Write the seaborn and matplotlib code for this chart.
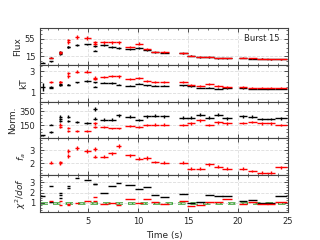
import numpy as np
import matplotlib
matplotlib.use("Agg")
import matplotlib.pyplot as plt
import seaborn as sns
from matplotlib.ticker import AutoMinorLocator

# ---- data ----
t_black = [0.45, 1.3, 1.3, 2.2, 2.2, 2.2, 3.0, 3.0, 3.9, 4.9, 5.65, 5.65, 6.6, 7.4, 8.05,
           9.2, 10.1, 10.9, 11.7, 12.6, 14.5, 15.3, 16.2, 17.1, 18.0, 18.9, 20.5, 21.4,
           22.4, 23.3, 24.3]
dt_black = [0.25, 0.2, 0.2, 0.15, 0.15, 0.15, 0.15, 0.15, 0.2, 0.35, 0.2, 0.2, 0.4, 0.4, 0.25,
            0.5, 0.4, 0.4, 0.4, 0.45, 0.45, 0.4, 0.45, 0.45, 0.45, 0.5, 0.4, 0.45,
            0.55, 0.4, 0.6]
flux_black = [1.0, 4.0, 12.5, 20, 23, 26, 36, 36, 41, 42, 38, 28, 40, 36, 34,
              31, 34, 29, 24, 23, 22, 17, 13.5, 13.5, 11, 11, 11.5, 10,
              9.5, 9, 8.5]
kt_black = [1.55, 1.55, 1.45, 1.7, 1.75, 1.8, 1.75, 1.75, 1.95, 2.08, 1.95, 1.55, 1.92, 1.9, 1.75,
            1.65, 1.85, 1.7, 1.65, 1.65, 1.67, 1.6, 1.43, 1.45, 1.35, 1.42, 1.4, 1.38,
            1.38, 1.38, 1.38]
norm_black = [3, 160, 55, 270, 240, 210, 270, 210, 198, 185, 385, 245, 230, 230, 293,
              270, 222, 279, 285, 280, 256, 256, 303, 256, 303, 250, 279, 270,
              240, 240, 250]
chi_black = [1.65, 2.65, 1.1, 1.95, 1.75, 1.45, 2.65, 2.4, 3.4, 3.2, 2.8, 2.8, 1.95, 2.6, 2.95,
             2.7, 2.3, 2.5, 1.8, 1.6, 1.85, 0.95, 1.05, 1.8, 1.65, 1.7, 1.15, 1.3,
             0.95, 0.95, 1.65]

t_red = [1.3, 2.2, 2.2, 3.0, 3.0, 3.9, 4.9, 5.65, 5.65, 6.6, 7.4, 8.05, 9.2, 10.1, 10.9,
         11.7, 12.6, 14.5, 15.3, 16.2, 17.1, 18.0, 18.9, 20.5, 21.4, 22.4, 23.3, 24.3]
dt_red = [0.2, 0.15, 0.15, 0.15, 0.15, 0.2, 0.35, 0.2, 0.2, 0.4, 0.4, 0.25, 0.5, 0.4, 0.4,
          0.4, 0.45, 0.45, 0.4, 0.45, 0.45, 0.45, 0.5, 0.4, 0.45, 0.55, 0.4, 0.6]
flux_red = [12.5, 22, 25, 47, 51, 59, 57, 47, 44, 47, 47, 47, 36, 44, 32,
            26, 25, 23, 17, 14, 14, 11.5, 11.5, 12, 10.5, 9.5, 9, 8.5]
kt_red = [2.0, 1.95, 2.0, 2.5, 2.8, 2.95, 2.95, 2.4, 2.25, 2.45, 2.55, 2.5, 2.25, 2.35, 2.08,
          1.95, 1.95, 1.95, 1.75, 1.6, 1.8, 1.6, 1.55, 1.5, 1.47, 1.47, 1.47, 1.47]
norm_red = [np.nan, 160, 120, 113, 65, 65, 65, 175, 127, 127, 103, 103, 136, 127, 150,
            160, 160, 150, 175, 222, 150, 193, 175, 180, 194, 175, 175, 150]
fa_red = [2.05, 2.0, 2.08, 2.92, 2.55, 3.18, 2.92, 3.05, 2.5, 2.5, 2.75, 3.3, 2.6, 2.35, 2.4,
          2.1, 2.05, 2.05, 1.6, 1.6, 1.92, 1.75, 1.6, 1.6, 1.42, 1.3, 1.3, 1.68]
chi_red = [1.2, 1.15, 0.75, 0.85, 0.8, 1.0, 1.2, 1.6, 1.2, 0.85, 1.0, 0.75, 1.35, 0.95, 1.4,
           1.05, 0.9, 1.2, 0.65, 0.75, 1.05, 1.1, 1.35, 0.85, 1.1, 0.9, 0.85, 1.05]

ylabels = ["Flux", "kT", "Norm.", "$f_a$", "$\\chi^2/dof$"]
yticks = [[15, 55], [1, 3], [150, 350], [2, 3], [1, 2, 3]]
ylims = [(-4, 79), (0.17, 3.58), (-40, 490), (1.1, 3.88), (0.1, 3.7)]
xticks = [5, 10, 15, 20, 25]

# ---- style ----
sns.set_style("ticks")
plt.rcParams["font.family"] = ["DejaVu Sans"]
plt.rcParams["font.size"] = 6

fig, axes = plt.subplots(5, 1, figsize=(3.2, 2.4), dpi=100, sharex=True)
fig.subplots_adjust(left=0.125, right=0.9, top=0.883, bottom=0.117, hspace=0)

ekw = dict(fmt="none", elinewidth=1.0, capsize=0)

def yerr_of(vals, frac, minimum):
    v = np.asarray(vals, dtype=float)
    return np.maximum(np.abs(v) * frac, minimum)

# Flux
ax = axes[0]
ax.errorbar(t_black, flux_black, xerr=dt_black, yerr=yerr_of(flux_black, 0.05, 1.0), ecolor="black", **ekw)
ax.errorbar(t_red, flux_red, xerr=dt_red, yerr=yerr_of(flux_red, 0.08, 1.0), ecolor="red", **ekw)
ax.text(0.965, 0.72, "Burst 15", transform=ax.transAxes, ha="right", va="center", fontsize=6)

# kT
ax = axes[1]
kerr_b = yerr_of(kt_black, 0.03, 0.04); kerr_b[0] = 0.35
ax.errorbar(t_black, kt_black, xerr=dt_black, yerr=kerr_b, ecolor="black", **ekw)
ax.errorbar(t_red, kt_red, xerr=dt_red, yerr=yerr_of(kt_red, 0.05, 0.06), ecolor="red", **ekw)

# Norm
ax = axes[2]
nerr_b = yerr_of(norm_black, 0.08, 12)
ax.errorbar(t_black, norm_black, xerr=dt_black, yerr=nerr_b, ecolor="black", **ekw)
ax.errorbar(t_red, norm_red, xerr=dt_red, yerr=yerr_of(norm_red, 0.1, 12), ecolor="red", **ekw)

# fa
ax = axes[3]
ax.errorbar(t_red, fa_red, xerr=dt_red, yerr=yerr_of(fa_red, 0.05, 0.08), ecolor="red", **ekw)

# chi2
ax = axes[4]
ax.errorbar(t_black, chi_black, xerr=dt_black, yerr=None, ecolor="black", **ekw)
ax.errorbar(t_red, chi_red, xerr=dt_red, yerr=None, ecolor="red", **ekw)
ax.axhline(1.0, color="#33a02c", ls="--", lw=1.8, dashes=(3, 2), zorder=0)

for i, ax in enumerate(axes):
    ax.set_xlim(0.2, 25)
    ax.set_ylim(*ylims[i])
    ax.set_yticks(yticks[i])
    ax.set_xticks(xticks)
    ax.set_ylabel(ylabels[i], fontsize=6.5, labelpad=1.5)
    ax.grid(True, ls="--", lw=0.6, color="#dddddd")
    ax.set_axisbelow(True)
    ax.xaxis.set_minor_locator(AutoMinorLocator(5))
    ax.yaxis.set_minor_locator(AutoMinorLocator(4))
    ax.tick_params(which="both", direction="in", top=True, right=True, labelsize=6, color="#333333")
    ax.tick_params(which="major", length=3, width=0.6)
    ax.tick_params(which="minor", length=1.5, width=0.5)
    for s in ax.spines.values():
        s.set_color("#444444")
        s.set_linewidth(0.8)

axes[-1].set_xlabel("Time (s)", fontsize=6.5)

fig.savefig("out.png", dpi=100)
